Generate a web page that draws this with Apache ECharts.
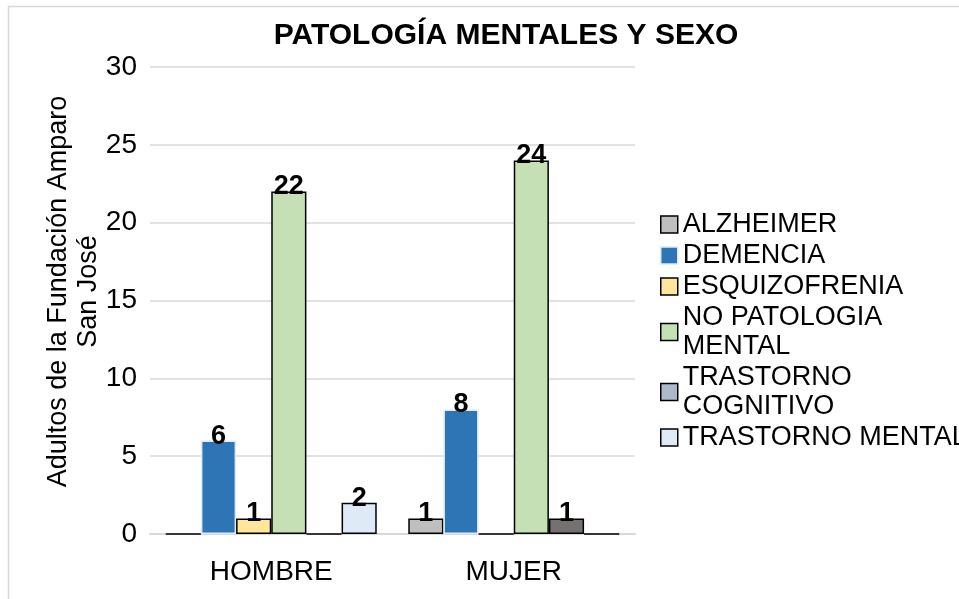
<!DOCTYPE html>
<html><head><meta charset="utf-8">
<script src="https://cdn.jsdelivr.net/npm/echarts@6/dist/echarts.min.js"></script>
<style>html,body{margin:0;padding:0;background:#fff}#c{width:959px;height:599px}</style>
</head><body><div id="c"></div>
<script>
const categories = ['HOMBRE', 'MUJER'];
const seriesNames = ['ALZHEIMER', 'DEMENCIA', 'ESQUIZOFRENIA', 'NO PATOLOGIA MENTAL', 'TRASTORNO COGNITIVO', 'TRASTORNO MENTAL'];
const alzheimer = [0, 1];
const demencia = [6, 8];
const esquizofrenia = [1, 0];
const noPatologia = [22, 24];
const trastornoCognitivo = [0, 1];
const trastornoMental = [2, 0];
const yTicks = [0, 5, 10, 15, 20, 25, 30];

const values = [alzheimer, demencia, esquizofrenia, noPatologia, trastornoCognitivo, trastornoMental];
const colors = ['#BFBFBF', '#2E75B6', '#FFE699', '#C5E0B4', '#767171', '#DEEBF7'];
const legendColors = ['#BFBFBF', '#2E75B6', '#FFE699', '#C5E0B4', '#ADB9CA', '#DEEBF7'];
const borders = ['#000', '#DEEBF7', '#000', '#000', '#000', '#000'];

const chart = echarts.init(document.getElementById('c'));
const font = 'Liberation Sans, Arial, sans-serif';
chart.setOption({
  animation: false,
  textStyle: {fontFamily: font},
  graphic: [{type: 'rect', shape: {x: 8.5, y: 6.5, width: 960, height: 600}, style: {fill: 'none', stroke: '#D9D9D9', lineWidth: 1.5}, silent: true}],
  title: {text: 'PATOLOGÍA MENTALES Y SEXO', left: 501, textAlign: 'center', top: 16,
    textStyle: {fontFamily: font, fontWeight: 'bold', fontSize: 30, color: '#000'}},
  grid: {left: 150, right: 324, top: 67, bottom: 65},
  legend: {orient: 'vertical', left: 660, top: 210, itemWidth: 17, itemHeight: 17, itemGap: 2, padding: 0,
    textStyle: {fontSize: 27, color: '#000', fontFamily: font, lineHeight: 29, padding: [0, 0, 0, 0]},
    formatter: function(n){ return n === 'NO PATOLOGIA MENTAL' ? 'NO PATOLOGIA\nMENTAL' : (n === 'TRASTORNO COGNITIVO' ? 'TRASTORNO\nCOGNITIVO' : n); },
    data: seriesNames.map((n, i) => ({name: n, icon: 'rect', itemStyle: {color: legendColors[i], borderColor: borders[i], borderWidth: 1.5}}))},
  xAxis: {type: 'category', data: categories, axisTick: {show: false},
    axisLine: {show: true, lineStyle: {color: '#D9D9D9', width: 2}},
    axisLabel: {fontSize: 28, color: '#000', margin: 24}},
  yAxis: {type: 'value', min: 0, max: 30, interval: 5,
    name: 'Adultos de la Fundación Amparo\nSan José', nameLocation: 'middle', nameGap: 46, nameRotate: 90,
    nameMoveOverlap: false,
    nameTextStyle: {fontSize: 27, color: '#000', lineHeight: 30, padding: [0, 0, 0, 18]},
    axisLine: {show: false}, axisTick: {show: false},
    axisLabel: {fontSize: 28, color: '#000', margin: 13, formatter: v => yTicks.includes(v) ? String(v) : ''},
    splitLine: {lineStyle: {color: '#D9D9D9', width: 1.5}}},
  series: seriesNames.map((n, i) => ({
    name: n, type: 'bar', data: values[i], barGap: '0%', barCategoryGap: '13%',
    itemStyle: {color: colors[i], borderColor: borders[i], borderWidth: 1.5},
    label: {show: true, position: 'top', distance: -9, fontSize: 27, fontWeight: 'bold', color: '#000',
      formatter: p => p.value === 0 ? '' : String(p.value)}
  }))
});
</script></body></html>
